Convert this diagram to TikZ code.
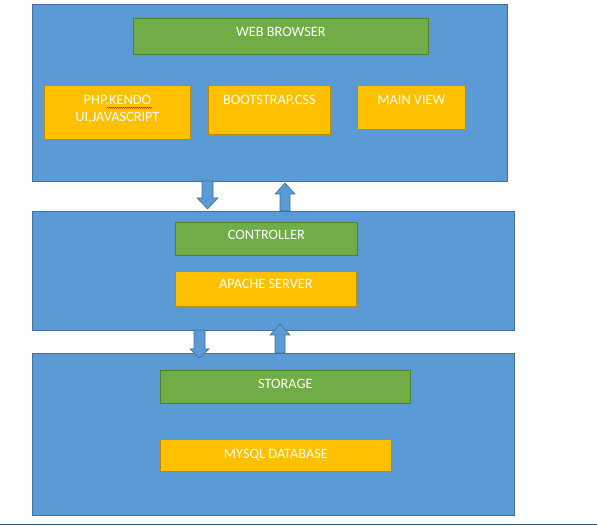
\documentclass[tikz,border=0pt]{standalone}
\usepackage{fontspec}
\setmainfont{Carlito}
\usetikzlibrary{decorations.pathmorphing}
\definecolor{bfill}{HTML}{5B9BD5}
\definecolor{bline}{HTML}{41719C}
\definecolor{gfill}{HTML}{70AD47}
\definecolor{gline}{HTML}{507E32}
\definecolor{ofill}{HTML}{FFC000}
\definecolor{oline}{HTML}{BC8C00}
\tikzset{
  layer/.style={draw=bline, fill=bfill, line width=0.8pt, anchor=north west, inner sep=0pt},
  gbox/.style={draw=gline, fill=gfill, line width=0.8pt, anchor=north west, inner sep=0pt},
  obox/.style={draw=oline, fill=ofill, line width=0.8pt, anchor=north west, inner sep=0pt},
  lbl/.style={text=white, font=\fontsize{14.3}{17}\selectfont, anchor=base, inner sep=0pt},
  blockarrow/.style={draw=bline, fill=bfill, line width=0.6pt, line join=miter},
}
\begin{document}
\begin{tikzpicture}[x=1pt, y=-1pt]
\useasboundingbox (0,0) rectangle (597,526);
% layers
\node[layer, minimum width=475, minimum height=177] (top) at (32,4) {};
\node[layer, minimum width=482, minimum height=119] (mid) at (32,211) {};
\node[layer, minimum width=482, minimum height=162] (bot) at (32,353) {};
% top layer boxes
\node[gbox, minimum width=295, minimum height=36] (web) at (133,18) {};
\node[obox, minimum width=146, minimum height=54] (php) at (44,85) {};
\node[obox, minimum width=122, minimum height=49] (boot) at (208,85) {};
\node[obox, minimum width=108, minimum height=44] (main) at (357,85) {};
% middle
\node[gbox, minimum width=182, minimum height=33] (ctrl) at (175,222) {};
\node[obox, minimum width=181, minimum height=35] (apache) at (175,271) {};
% bottom
\node[gbox, minimum width=250, minimum height=33] (stor) at (160,370) {};
\node[obox, minimum width=231, minimum height=32] (mysql) at (160,439) {};
% labels
\node[lbl] (tweb) at ([yshift=-18.5pt]web.north) {WEB BROWSER};
\node[lbl] (tphpa) at ([yshift=-19.5pt]php.north) {PHP,KENDO};
\node[lbl] (tphpb) at ([yshift=-36.5pt]php.north) {UI,JAVASCRIPT};
\node[lbl] (tboot) at ([yshift=-20pt]boot.north) {BOOTSTRAP.CSS};
\node[lbl] (tmain) at ([yshift=-19.5pt]main.north) {MAIN VIEW};
\node[lbl] (tctrl) at ([yshift=-18pt]ctrl.north) {CONTROLLER};
\node[lbl] (tapache) at ([yshift=-17.5pt]apache.north) {APACHE SERVER};
\node[lbl] (tstor) at ([yshift=-18.3pt]stor.north) {STORAGE};
\node[lbl] (tmysql) at ([yshift=-19pt]mysql.north) {MYSQL DATABASE};
% spell-check underline
\draw[red!70!black, line width=0.4pt, decorate, decoration={snake, amplitude=0.5pt, segment length=2pt}]
  (107,107.8) -- (152,107.8);
% block arrows
\draw[blockarrow] (202,181) -- (213,181) -- (213,198) -- (218,198) -- (207.5,209) -- (197,198) -- (202,198) -- cycle;
\draw[blockarrow] (280,211) -- (290,211) -- (290,194) -- (295,194) -- (285,183) -- (275,194) -- (280,194) -- cycle;
\draw[blockarrow] (194,330) -- (205,330) -- (205,349) -- (209,349) -- (199.5,358) -- (190,349) -- (194,349) -- cycle;
\draw[blockarrow] (275,353) -- (285,353) -- (285,335) -- (290,335) -- (280,324) -- (270,335) -- (275,335) -- cycle;
% bottom rule
\coordinate (rl) at (0,524);
\coordinate (rr) at (597,524);
\draw[draw=bline!70!black, line width=1pt] (rl) -- (rr);
\end{tikzpicture}
\end{document}
